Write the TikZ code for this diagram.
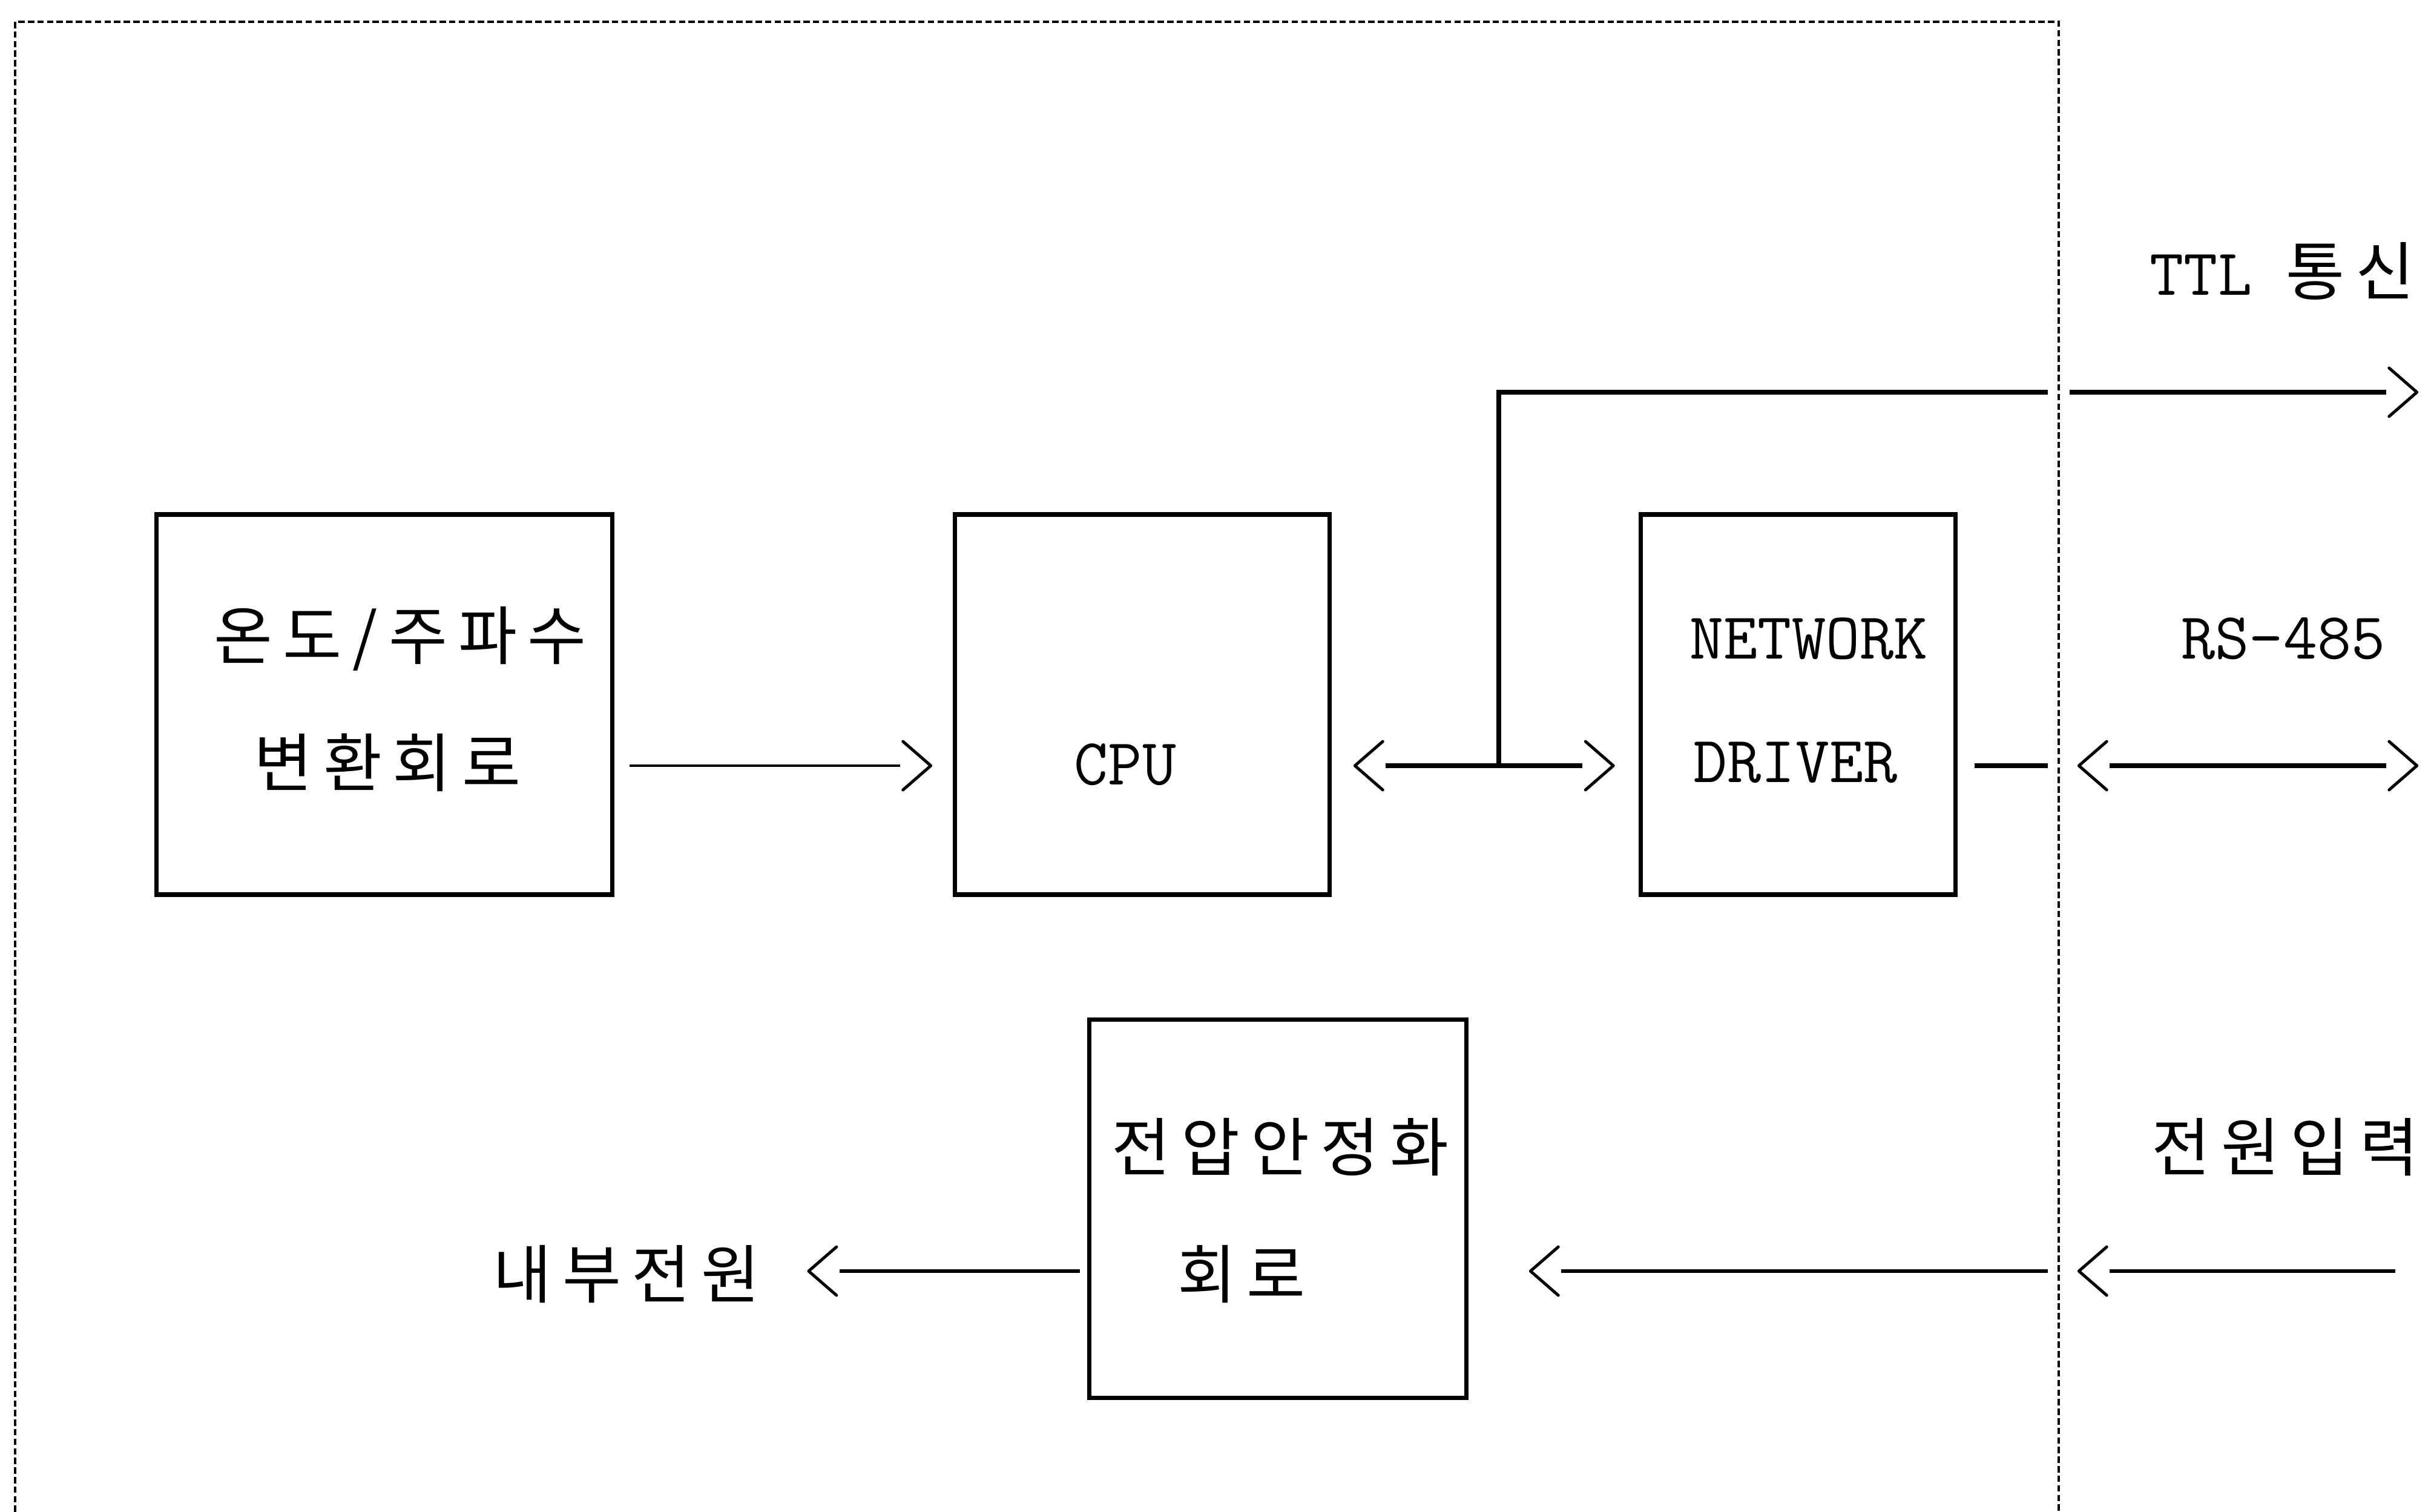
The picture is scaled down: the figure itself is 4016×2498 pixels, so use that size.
\documentclass[tikz,border=0pt]{standalone}
\usepackage{fontspec}
\newfontfamily\kr{Noto Sans CJK KR}[LetterSpace=17]
\usetikzlibrary{arrows.meta}

% open chevron, the line stops behind it
\pgfdeclarearrow{
  name = Chev,
  defaults = {length = 4.6mm, width = 8mm},
  parameters = {\the\pgfarrowlength,\the\pgfarrowwidth},
  setup code = {
    \pgfarrowssettipend{0.65pt}
    \pgfarrowssetbackend{-\pgfarrowlength}
    \pgfarrowssetvisualbackend{-\pgfarrowlength}
    \pgfarrowssetlineend{\dimexpr-\pgfarrowlength-0.5mm\relax}
    \pgfarrowsupperhullpoint{-\pgfarrowlength}{.5\pgfarrowwidth}
    \pgfarrowsupperhullpoint{0pt}{0pt}
  },
  drawing code = {
    \pgfsetdash{}{+0pt}
    \pgfsetlinewidth{1.4pt}
    \pgfsetroundcap
    \pgfsetroundjoin
    \pgfpathmoveto{\pgfqpoint{-\pgfarrowlength}{.5\pgfarrowwidth}}
    \pgfpathlineto{\pgfpointorigin}
    \pgfpathlineto{\pgfqpoint{-\pgfarrowlength}{-.5\pgfarrowwidth}}
    \pgfusepathqstroke
  }
}

\tikzset{
  chev/.tip={Chev},
  blk/.style={draw, line width=2pt, inner sep=0pt},
  en/.style={font=\ttfamily\fontsize{31}{36}\selectfont\addfontfeatures{FakeBold=0.8}, inner sep=0pt},
  ko/.style={font=\kr\fontsize{30}{34}\selectfont, inner sep=0pt},
  sig/.style={line width=1.3pt},
  bus/.style={line width=2.4pt},
  pw/.style={line width=1.8pt},
  frame/.style={line width=1.3pt, dash pattern=on 3pt off 1.5pt}
}

\begin{document}
\begin{tikzpicture}[x=0.1mm, y=-0.1mm]
  \useasboundingbox (0,0) rectangle (4016,2498);
  % blocks
  \node[blk, minimum width=75.3mm, minimum height=62.8mm] (conv) at (635,1164) {};
  \node[blk, minimum width=61.9mm, minimum height=62.8mm] (cpu) at (1887,1164) {};
  \node[blk, minimum width=52mm, minimum height=62.8mm] (net) at (2970,1164) {};
  \node[blk, minimum width=62.3mm, minimum height=62.5mm] (pwr) at (2111,1997) {};
  % texts
  \node[ko] (convA) at (661,1055) {온도/주파수};
  \node[ko] (convB) at (640,1260) {변환회로};
  \node[en] (cpuT) at (1859,1263) {CPU};
  \node[en, anchor=west] (netA) at (2791,1055) {NETWORK};
  \node[en, anchor=west] (netB) at (2797,1260) {DRIVER};
  \node[ko] (pwrA) at (2115,1895) {전압안정화};
  \node[ko] (pwrB) at (2051,2105) {회로};
  \node[ko] (intT) at (1035,2105) {내부전원};
  \node[en] (ttlT) at (3770,448) {TTL {\kr\fontsize{30}{34}\selectfont 통신}};
  \node[en] (rsT) at (3772,1055) {RS-485};
  \node[ko] (pinT) at (3775,1895) {전원입력};
  % ports
  \coordinate (jn) at (2476,1265);
  \coordinate (ttl) at (3995,648);
  \coordinate (rsF) at (3401,1265);
  \coordinate (rs) at (3995,1265);
  \coordinate (pin) at (3957,2100);
  \coordinate (pwF) at (3401,2100);
  % connectors
  \draw[sig, -{chev}, shorten <=2.5mm, shorten >=3.4mm] (conv.east |- jn) -- (cpu.west |- jn);
  \draw[bus, {chev}-{chev}, shorten <=3.6mm, shorten >=3.9mm] (cpu.east |- jn) -- (net.west |- jn);
  \draw[bus, -{chev}] (jn) |- (ttl);
  \draw[bus, shorten <=2.8mm] (net.east |- jn) -- (rsF);
  \draw[bus, {chev}-{chev}, shorten <=3.1mm] (rsF) -- (rs);
  \draw[pw, -{chev}, shorten >=3.1mm] (pin) -- (pwF);
  \draw[pw, -{chev}, shorten >=10mm] (pwF) -- (pwr.east |- pwF);
  \draw[pw, -{chev}, shorten <=1.2mm, shorten >=7.7mm] (pwr.west |- pwF) -- (intT.east |- pwF);
  % outline
  \draw[white, line width=3.6mm] (3401,500) -- (3401,2300);
  \draw[frame] (25,2498) -- (25,36) -- (3401,36) -- (3401,2498);
\end{tikzpicture}
\end{document}
